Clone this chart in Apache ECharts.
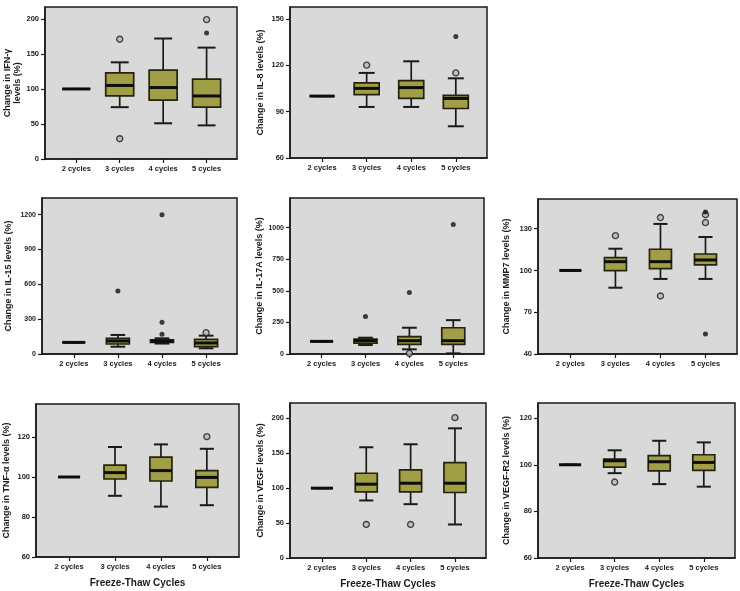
<!DOCTYPE html>
<html>
<head>
<meta charset="utf-8">
<script src="https://cdn.jsdelivr.net/npm/echarts@6/dist/echarts.min.js"></script>
<style>
html,body{margin:0;padding:0;background:#fff;}
#chart{width:740px;height:591px;}
</style>
</head>
<body>
<div id="chart"></div>
<script>
const categories = ['2 cycles', '3 cycles', '4 cycles', '5 cycles'];
const categoryPositions = [0, 1, 2, 3];
const xAxisTitle = 'Freeze-Thaw Cycles';

// each box: [min, Q1, median, Q3, max] per category
const ifnBoxes = [[100,100,100,100,100],[74,90,105,123,138],[51,84,102,127,172],[48,74,90,114,159]];
const ifnOutliers = [[1,171],[1,29],[3,199]];
const ifnExtremes = [[3,180]];
const ifnTicks = [0,50,100,150,200];

const il8Boxes = [[100,100,100,100,100],[93,101,105,108.5,115],[93,98.5,105.5,110,122.5],[80.5,92,98.5,100.5,111.5]];
const il8Outliers = [[1,120],[3,115]];
const il8Extremes = [[3,138.5]];
const il8Ticks = [60,90,120,150];

const il15Boxes = [[100,100,100,100,100],[63,86,112,135,164],[90,100,110,122,135],[49,63,95,126,158]];
const il15Outliers = [[3,184]];
const il15Extremes = [[1,543],[2,1200],[2,273],[2,170]];
const il15Ticks = [0,300,600,900,1200];

const il17Boxes = [[100,100,100,100,100],[71,85,105,118,129],[37,76,105,137,208],[5,76,105,208,268]];
const il17Outliers = [[2,5]];
const il17Extremes = [[1,297],[2,487],[3,1026]];
const il17Ticks = [0,250,500,750,1000];

const mmpBoxes = [[100,100,100,100,100],[87.6,99.9,106.3,109.2,115.6],[93.9,101.3,106.3,115.2,133.4],[93.9,104,107.5,111.8,124]];
const mmpOutliers = [[1,125],[2,138],[2,81.7],[3,134.3],[3,140]];
const mmpExtremes = [[3,142],[3,54.4]];
const mmpTicks = [40,70,100,130];

const tnfBoxes = [[100,100,100,100,100],[90.6,99,102.2,105.9,115],[85.2,98,103.2,109.9,116.3],[85.9,94.8,99.8,103.2,114.1]];
const tnfOutliers = [[3,120.2]];
const tnfExtremes = [];
const tnfTicks = [60,80,100,120];

const vegfBoxes = [[100,100,100,100,100],[82.4,94.8,105.7,121.4,158.6],[77.1,94.8,107.1,126.2,162.9],[48,93.8,107.1,136.7,185.7]];
const vegfOutliers = [[1,48],[2,48],[3,201]];
const vegfExtremes = [];
const vegfTicks = [0,50,100,150,200];

const vegfr2Boxes = [[100,100,100,100,100],[96.4,99,101.7,102.4,106.2],[91.7,97.4,101.3,103.9,110.3],[90.6,97.6,101,104.3,109.6]];
const vegfr2Outliers = [[1,92.6]];
const vegfr2Extremes = [];
const vegfr2Ticks = [60,80,100,120];

const panels = [
  {title:'Change in IFN-γ\nlevels (%)', boxes:ifnBoxes, out:ifnOutliers, ext:ifnExtremes, ticks:ifnTicks, min:0, max:217, interval:50,
   left:45, top:7, width:192, height:152, gap:21, bw:28, fs:7.5, xname:false},
  {title:'Change in IL-8 levels (%)', boxes:il8Boxes, out:il8Outliers, ext:il8Extremes, ticks:il8Ticks, min:60, max:157.6, interval:30,
   left:290, top:7, width:197, height:151, gap:24, bw:25, fs:7.5, xname:false},
  {title:'Change in IL-15 levels (%)', boxes:il15Boxes, out:il15Outliers, ext:il15Extremes, ticks:il15Ticks, min:0, max:1344, interval:300,
   left:42, top:198, width:195, height:156, gap:28, bw:23, fs:7, xname:false},
  {title:'Change in IL-17A levels (%)', boxes:il17Boxes, out:il17Outliers, ext:il17Extremes, ticks:il17Ticks, min:0, max:1235, interval:250,
   left:290, top:198, width:194, height:156, gap:24, bw:23, fs:7, xname:false},
  {title:'Change in MMP7 levels (%)', boxes:mmpBoxes, out:mmpOutliers, ext:mmpExtremes, ticks:mmpTicks, min:40, max:151.3, interval:30,
   left:538, top:199, width:199, height:155, gap:26, bw:22, fs:7.5, xname:false},
  {title:'Change in TNF-α levels (%)', boxes:tnfBoxes, out:tnfOutliers, ext:tnfExtremes, ticks:tnfTicks, min:60, max:136.5, interval:20,
   left:36, top:404, width:203, height:153, gap:24, bw:22, fs:7.5, xname:true},
  {title:'Change in VEGF levels (%)', boxes:vegfBoxes, out:vegfOutliers, ext:vegfExtremes, ticks:vegfTicks, min:0, max:222, interval:50,
   left:290, top:403, width:196, height:155, gap:24, bw:22, fs:7.5, xname:true},
  {title:'Change in VEGF-R2 levels (%)', boxes:vegfr2Boxes, out:vegfr2Outliers, ext:vegfr2Extremes, ticks:vegfr2Ticks, min:60, max:126.5, interval:20,
   left:538, top:403, width:197, height:155, gap:26, bw:22, fs:7.5, xname:true}
];

const FONT = '"Liberation Sans", Arial, sans-serif';
const INK = '#1a1a1a';

function makeRender(bw) {
  return function (params, api) {
    const x = api.value(0);
    const pMin = api.coord([x, api.value(1)]);
    const pQ1 = api.coord([x, api.value(2)]);
    const pMed = api.coord([x, api.value(3)]);
    const pQ3 = api.coord([x, api.value(4)]);
    const pMax = api.coord([x, api.value(5)]);
    const cx = pMed[0];
    const h = bw / 2, ch = bw * 0.32;
    const ls = {stroke: INK, lineWidth: 1.7};
    return {
      type: 'group',
      children: [
        {type:'line', shape:{x1:cx, y1:pQ3[1], x2:cx, y2:pMax[1]}, style:ls},
        {type:'line', shape:{x1:cx, y1:pQ1[1], x2:cx, y2:pMin[1]}, style:ls},
        {type:'line', shape:{x1:cx-ch, y1:pMax[1], x2:cx+ch, y2:pMax[1]}, style:{stroke:INK, lineWidth:2}},
        {type:'line', shape:{x1:cx-ch, y1:pMin[1], x2:cx+ch, y2:pMin[1]}, style:{stroke:INK, lineWidth:2}},
        {type:'rect', shape:{x:cx-h, y:pQ3[1], width:bw, height:pQ1[1]-pQ3[1]},
         style:{fill:'#a19f45', stroke:'#23230f', lineWidth:1.7}},
        {type:'line', shape:{x1:cx-h, y1:pMed[1], x2:cx+h, y2:pMed[1]}, style:{stroke:'#0d0d0d', lineWidth:3}}
      ]
    };
  };
}

const grid = [], xAxis = [], yAxis = [], series = [];
panels.forEach((p, i) => {
  grid.push({left:p.left, top:p.top, width:p.width, height:p.height, show:true,
    backgroundColor:'#d9d9d9', borderColor:INK, borderWidth:1.5, containLabel:false});
  xAxis.push({
    type:'value', gridIndex:i, min:-0.72, max:3.7, interval:1,
    name: p.xname ? xAxisTitle : '', nameLocation:'middle', nameGap:21,
    nameTextStyle:{fontFamily:FONT, fontWeight:'bold', fontSize:10, color:INK},
    axisLine:{show:true, onZero:false, lineStyle:{color:INK, width:1.5}},
    axisTick:{show:true, length:4, inside:false, customValues:categoryPositions, lineStyle:{color:INK, width:1.2}},
    axisLabel:{show:true, margin:6, fontFamily:FONT, fontWeight:'bold', fontSize:7.5, color:INK,
      customValues:categoryPositions,
      showMinLabel:true, showMaxLabel:true,
      formatter: v => (Number.isInteger(v) && v >= 0 && v < categories.length) ? categories[v] : ''},
    splitLine:{show:false}
  });
  yAxis.push({
    type:'value', gridIndex:i, min:p.min, max:p.max, interval:p.interval,
    name:p.title, nameLocation:'middle', nameGap:p.gap,
    nameTextStyle:{fontFamily:FONT, fontWeight:'bold', fontSize:9, color:INK, lineHeight:10},
    axisLine:{show:true, onZero:false, lineStyle:{color:INK, width:1.5}},
    axisTick:{show:true, length:4, inside:false, customValues:p.ticks, lineStyle:{color:INK, width:1.2}},
    axisLabel:{show:true, margin:6, fontFamily:FONT, fontWeight:'bold', fontSize:p.fs, color:INK,
      customValues:p.ticks,
      formatter: v => p.ticks.indexOf(v) >= 0 ? String(v) : ''},
    splitLine:{show:false}
  });
  series.push({
    type:'custom', xAxisIndex:i, yAxisIndex:i,
    renderItem: makeRender(p.bw),
    encode:{x:0, y:[1,2,3,4,5]},
    data: p.boxes.map((b, k) => [categoryPositions[k]].concat(b)),
    silent:true, z:2
  });
  series.push({
    type:'scatter', xAxisIndex:i, yAxisIndex:i, data:p.out, symbol:'circle', symbolSize:6,
    itemStyle:{color:'#b8b8b8', borderColor:'#202020', borderWidth:1.4}, silent:true, z:3
  });
  series.push({
    type:'scatter', xAxisIndex:i, yAxisIndex:i, data:p.ext, symbol:'circle', symbolSize:5,
    itemStyle:{color:'#111'}, silent:true, z:3
  });
});

const chart = echarts.init(document.getElementById('chart'), null, {renderer:'canvas'});
chart.setOption({animation:false, backgroundColor:'#fff', grid, xAxis, yAxis, series});
</script>
</body>
</html>
